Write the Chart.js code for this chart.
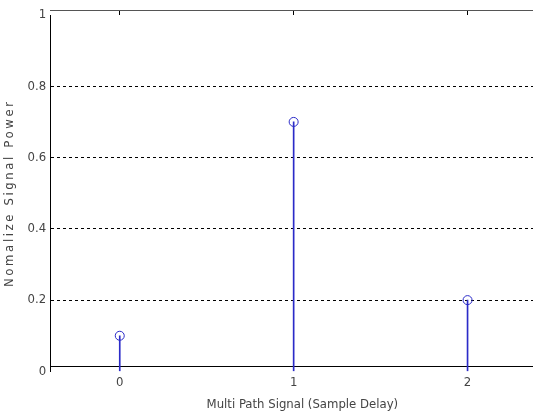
<!DOCTYPE html>
<html>
<head>
<meta charset="utf-8">
<script src="https://cdn.jsdelivr.net/npm/chart.js@4"></script>
<style>
  html, body { margin: 0; padding: 0; background: #fff; overflow: hidden; }
  #wrap { width: 533px; height: 420px; overflow: hidden; }
</style>
</head>
<body>
<div id="wrap"><canvas id="stemChart" width="560" height="420"></canvas></div>
<script>
// sample delays (x) and normalised power (y)
const delays = [0, 1, 2];
const power = [0.1, 0.7, 0.2];
const xTickValues = [0, 1, 2];
const yTickValues = [0, 0.2, 0.4, 0.6, 0.8, 1];

const stemColor = "#2b2bc8";
const textColor = "#444";
const fontFamily = "'Liberation Sans Narrow', 'DejaVu Sans Condensed', 'Liberation Sans', sans-serif";

const points = delays.map((d, i) => ({ x: d, y: power[i] }));

// spread the letters of the y axis title like the original
const spacedYTitle = {
  id: "spacedYTitle",
  beforeDraw(chart) {
    const s = chart.scales.y;
    if (s._spaced) return;
    const orig = s.drawTitle;
    s.drawTitle = function () {
      this.ctx.save();
      this.ctx.letterSpacing = "2.6px";
      orig.call(this);
      this.ctx.restore();
    };
    s._spaced = true;
  },
};

const ctx = document.getElementById("stemChart").getContext("2d");

new Chart(ctx, {
  data: {
    datasets: [
      {
        // the stems
        type: "bar",
        data: points,
        backgroundColor: stemColor,
        barThickness: 1,
        order: 2,
      },
      {
        // the circle markers
        type: "scatter",
        data: points,
        pointStyle: "circle",
        pointRadius: 4.5,
        borderColor: stemColor,
        borderWidth: 1,
        backgroundColor: "rgba(255,255,255,0)",
        order: 1,
      },
    ],
  },
  options: {
    responsive: false,
    animation: false,
    layout: { padding: { left: 2, right: 0, top: 15, bottom: 4 } },
    plugins: {
      legend: { display: false },
      tooltip: { enabled: false },
    },
    scales: {
      x: {
        type: "linear",
        position: "bottom",
        offset: false,
        min: -0.4,
        max: 2.5,
        afterBuildTicks: (axis) => {
          axis.ticks = xTickValues.map((v) => ({ value: v }));
        },
        ticks: {
          color: textColor,
          font: { family: fontFamily, size: 13 },
          padding: 8,
        },
        grid: { display: true, drawOnChartArea: false, drawTicks: false },
        border: { display: true, color: "#000", width: 1 },
        title: {
          display: true,
          text: "Multi Path Signal (Sample Delay)",
          color: textColor,
          font: { family: fontFamily, size: 13, lineHeight: 1.0 },
          padding: { top: 0, bottom: 0 },
        },
      },
      xTop: {
        type: "linear",
        position: "top",
        offset: false,
        min: -0.4,
        max: 2.5,
        afterBuildTicks: (axis) => {
          axis.ticks = xTickValues.map((v) => ({ value: v }));
        },
        ticks: { display: false },
        grid: { drawOnChartArea: false, drawTicks: true, tickLength: -5, color: "#000" },
        border: { display: true, color: "#555", width: 1 },
      },
      y: {
        min: 0,
        max: 1,
        afterBuildTicks: (axis) => {
          axis.ticks = yTickValues.map((v) => ({ value: v }));
        },
        ticks: {
          color: textColor,
          font: { family: fontFamily, size: 13 },
          padding: 4,
          callback: (v) => String(v),
        },
        grid: {
          drawTicks: false,
          color: (c) => (c.tick && (c.tick.value === 0 || c.tick.value === 1) ? "rgba(0,0,0,0)" : "#000"),
          lineWidth: 1,
        },
        border: { display: true, color: "#000", width: 1, dash: [3, 3] },
        title: {
          display: true,
          text: "Nomalize Signal Power",
          color: textColor,
          font: { family: fontFamily, size: 13 },
          padding: { top: 0, bottom: 6 },
        },
      },
    },
  },
  plugins: [spacedYTitle],
});
</script>
</body>
</html>
